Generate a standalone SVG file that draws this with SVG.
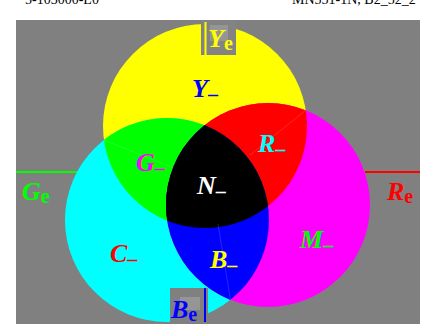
<svg xmlns="http://www.w3.org/2000/svg" width="424" height="324" viewBox="0 0 424 324">
<style>
.hdr{font-family:"Liberation Serif",serif;font-size:14px;fill:#000}
.lb{font-family:"Liberation Serif",serif;font-weight:bold;font-style:italic;font-size:26px}
.el{font-size:26px}
.sub{font-style:normal;font-size:20px}
.dash{font-style:normal;font-size:20px}
.seam{stroke:#fff;stroke-opacity:0.15;stroke-width:1;fill:none}
</style>
<defs>
<clipPath id="cY"><circle cx="205" cy="126" r="102"/></clipPath>
<clipPath id="cC"><circle cx="167" cy="220" r="102"/></clipPath>
</defs>
<rect width="424" height="324" fill="#fff"/>
<text class="hdr" x="25" y="4">5-103000-L0</text>
<text class="hdr" x="292" y="4">MN551-1N, B2_52_2</text>
<rect x="16" y="20" width="404" height="304" fill="#808080"/>
<g id="circles">
<circle cx="205" cy="126" r="102" fill="#ffff00"/>
<circle cx="167" cy="220" r="102" fill="#00ffff"/>
<circle cx="268" cy="205" r="102" fill="#ff00ff"/>
<g clip-path="url(#cY)"><circle cx="167" cy="220" r="102" fill="#00ff00"/><circle cx="268" cy="205" r="102" fill="#ff0000"/></g>
<g clip-path="url(#cC)"><circle cx="268" cy="205" r="102" fill="#0000ff"/>
<g clip-path="url(#cY)"><circle cx="268" cy="205" r="102" fill="#000"/></g></g>
</g>
<g id="seams">
<line class="seam" x1="104" y1="140" x2="170" y2="166.5"/>
<line class="seam" x1="305.8" y1="110.2" x2="250" y2="155"/>
<line class="seam" x1="230.5" y1="299.8" x2="218" y2="224"/>
</g>
<g id="Y"><text class="lb" x="192" y="97" fill="#0000ff">Y<tspan class="dash" dy="4">–</tspan></text></g>
<g id="R"><text class="lb" x="258" y="152" fill="#00ffff">R<tspan class="dash" dy="4">–</tspan></text></g>
<g id="G"><text class="lb" x="136" y="171" fill="#ff00ff">G<tspan class="dash" dy="4">–</tspan></text></g>
<g id="N"><text class="lb" x="197" y="194" fill="#fff">N<tspan class="dash" dy="4">–</tspan></text></g>
<g id="C"><text class="lb" x="110" y="262" fill="#ff0000">C<tspan class="dash" dy="4">–</tspan></text></g>
<g id="M"><text class="lb" x="300" y="248" fill="#00ff00">M<tspan class="dash" dy="4">–</tspan></text></g>
<g id="B"><text class="lb" x="210" y="268" fill="#ffff00">B<tspan class="dash" dy="4">–</tspan></text></g>
<g id="Ye">
<rect x="201" y="20" width="35" height="35" fill="#838383"/>
<rect x="210" y="25" width="18" height="16" fill="#959595"/>
<line x1="205.5" y1="22" x2="205.5" y2="55" stroke="#ffff00" stroke-width="2"/>
<text class="lb el" x="208" y="47" fill="#ffff00">Y<tspan class="sub" dy="3">e</tspan></text>
</g>
<g id="Be">
<rect x="170" y="288" width="38" height="36" fill="#808080"/>
<rect x="180" y="297" width="20" height="13" fill="#959595"/>
<line x1="205" y1="288" x2="205" y2="322" stroke="#0000ff" stroke-width="2"/>
<text class="lb el" x="171" y="318" fill="#0000ff">B<tspan class="sub" dy="3">e</tspan></text>
</g>
<g id="Ge">
<line x1="16" y1="172" x2="77" y2="172" stroke="#00ff00" stroke-width="2"/>
<text class="lb el" x="22" y="200" fill="#00ff00">G<tspan class="sub" dy="3">e</tspan></text>
</g>
<g id="Re">
<line x1="365" y1="172" x2="420" y2="172" stroke="#ff0000" stroke-width="2"/>
<text class="lb el" x="387" y="200" fill="#ff0000">R<tspan class="sub" dy="3">e</tspan></text>
</g>
</svg>
